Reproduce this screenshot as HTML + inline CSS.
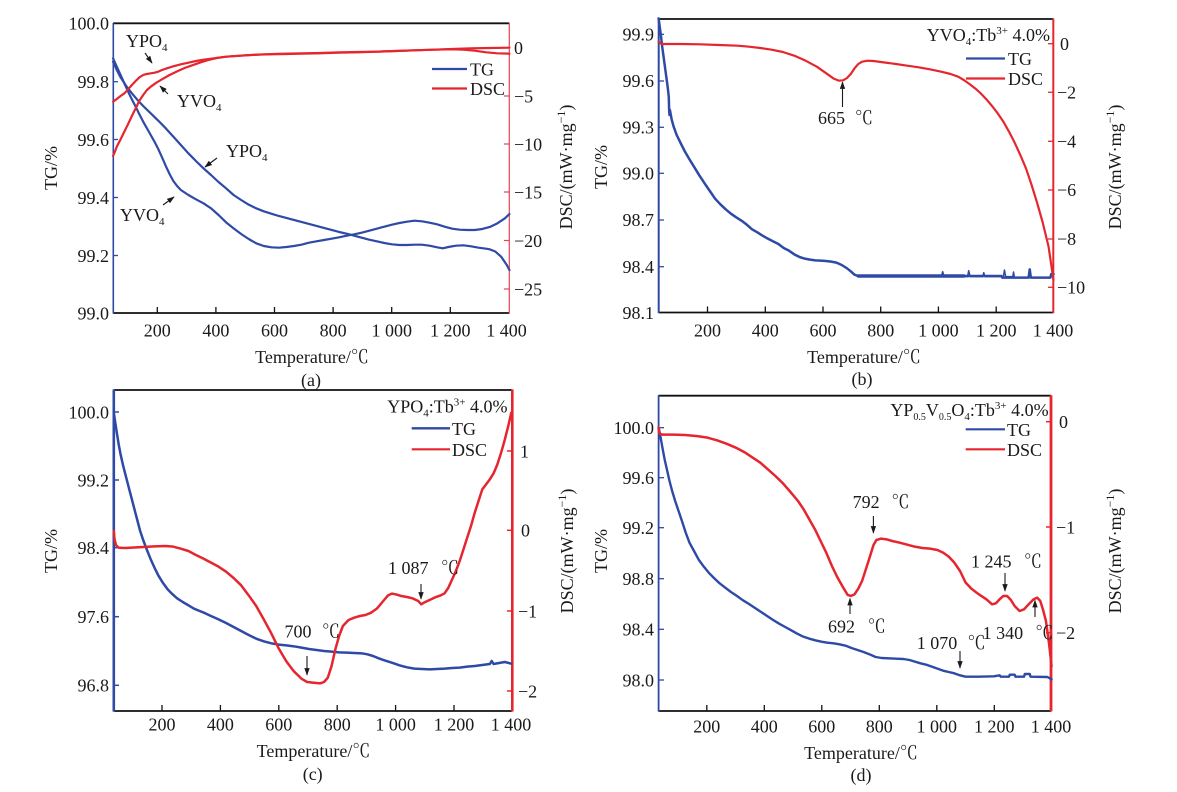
<!DOCTYPE html>
<html><head><meta charset="utf-8"><style>
html,body{margin:0;padding:0;background:#fff;}
svg{display:block;}
text{font-family:"Liberation Serif","Noto Serif CJK SC",serif;font-size:18px;fill:#1a1a1a;}
.tg{fill:none;stroke:#2e4aa6;stroke-width:2.2;stroke-linejoin:round;stroke-linecap:round;}
.dsc{fill:none;stroke:#e5262e;stroke-width:2.2;stroke-linejoin:round;stroke-linecap:round;}
.ar{stroke:#1a1a1a;stroke-width:1.1;fill:none;}
</style></head><body>
<svg width="1177" height="792" viewBox="0 0 1177 792" xmlns="http://www.w3.org/2000/svg">
<defs>
<marker id="ah" viewBox="0 0 10 10" refX="9" refY="5" markerWidth="7" markerHeight="7" orient="auto"><path d="M0,1.5 L10,5 L0,8.5 z" fill="#1a1a1a"/></marker>
</defs>

<!-- ================= PANEL (a) ================= -->
<g>
<line x1="113" y1="23.3" x2="509.3" y2="23.3" stroke="#111" stroke-width="1.8"/>
<line x1="113" y1="313" x2="509.3" y2="313" stroke="#111" stroke-width="1.8"/>
<line x1="113.3" y1="23" x2="113.3" y2="313.5" stroke="#2e4aa6" stroke-width="1.6"/>
<line x1="509.3" y1="23" x2="509.3" y2="313.5" stroke="#ec4050" stroke-width="1.2"/>
<g stroke="#111" stroke-width="1.3">
<line x1="157.3" y1="313" x2="157.3" y2="307"/><line x1="215.9" y1="313" x2="215.9" y2="307"/><line x1="274.5" y1="313" x2="274.5" y2="307"/><line x1="333.1" y1="313" x2="333.1" y2="307"/><line x1="391.7" y1="313" x2="391.7" y2="307"/><line x1="450.3" y1="313" x2="450.3" y2="307"/>
</g>
<g stroke="#2e4aa6" stroke-width="1.3">
<line x1="113" y1="81.7" x2="118" y2="81.7"/><line x1="113" y1="139.5" x2="118" y2="139.5"/><line x1="113" y1="197.5" x2="118" y2="197.5"/><line x1="113" y1="255.5" x2="118" y2="255.5"/>
</g>
<g stroke="#ec4050" stroke-width="1.2">
<line x1="509" y1="47.6" x2="504" y2="47.6"/><line x1="509" y1="96" x2="504" y2="96"/><line x1="509" y1="144" x2="504" y2="144"/><line x1="509" y1="192" x2="504" y2="192"/><line x1="509" y1="240.5" x2="504" y2="240.5"/><line x1="509" y1="289" x2="504" y2="289"/>
</g>
<g text-anchor="end">
<text x="109" y="29.5">100.0</text><text x="109" y="88">99.8</text><text x="109" y="146">99.6</text><text x="109" y="204">99.4</text><text x="109" y="262">99.2</text><text x="109" y="319.5">99.0</text>
</g>
<g text-anchor="start">
<text x="514" y="54">0</text><text x="514" y="102.5">−5</text><text x="514" y="150.5">−10</text><text x="514" y="198.5">−15</text><text x="514" y="247">−20</text><text x="514" y="295.5">−25</text>
</g>
<g text-anchor="middle">
<text x="157.3" y="336.5">200</text><text x="215.9" y="336.5">400</text><text x="274.5" y="336.5">600</text><text x="333.1" y="336.5">800</text><text x="391.7" y="336.5">1 000</text><text x="450.3" y="336.5">1 200</text><text x="506.5" y="336.5">1 400</text>
<text x="312" y="363">Temperature/℃</text>
<text x="311" y="386">(a)</text>
</g>
<text transform="translate(57,168) rotate(-90)" text-anchor="middle">TG/%</text>
<text transform="translate(572,167) rotate(-90)" text-anchor="middle">DSC/(mW·mg<tspan font-size="12" dy="-7">−1</tspan><tspan dy="7">)</tspan></text>

<g transform="scale(0.37679,0.33333)">
<polyline class="tg" vector-effect="non-scaling-stroke" points="300,175 310,200 320,225 330,250 340,275 350,298 360,320 370,343 380,365 390,385 400,405 410,425 420,447 430,472 440,498 450,522 460,543 470,558 480,570 500,585 520,598 540,610 560,625 580,645 600,667 620,685 640,702 660,717 680,730 700,738 720,742 740,743 760,741 780,738 800,734 820,728 840,724 860,720 880,716 900,712 920,707 940,703 960,698 980,692 1000,686 1020,680 1040,674 1060,669 1080,665 1100,662 1120,664 1140,668 1160,673 1180,680 1200,686 1220,689 1240,690 1260,690 1280,687 1300,681 1320,670 1340,655 1352,642"/>
<polyline class="tg" vector-effect="non-scaling-stroke" points="300,185 310,210 320,232 335,258 350,280 365,300 380,318 400,340 420,362 440,385 460,410 480,435 500,460 520,483 540,505 560,525 580,546 600,565 620,585 640,600 660,614 680,625 700,634 720,641 740,648 760,654 780,660 800,666 820,672 840,678 860,684 880,690 900,696 920,701 940,707 960,713 980,719 1000,724 1020,729 1040,733 1060,735 1080,735 1100,734 1120,734 1140,737 1160,742 1175,745 1190,741 1210,737 1230,736 1250,739 1270,743 1290,746 1300,748 1315,755 1330,770 1345,795 1352,810"/>
<polyline class="dsc" vector-effect="non-scaling-stroke" points="300,305 310,297 320,288 330,280 340,268 350,255 360,243 370,232 380,225 390,222 400,220 410,218 420,215 430,210 440,206 460,199 480,193 500,188 520,183 540,179 560,176 580,173 600,170 640,167 680,164 720,163 760,162 800,161 850,160 900,158 950,157 1000,155 1050,153 1100,151 1150,149 1200,147 1250,145 1300,144 1352,143"/>
<polyline class="dsc" vector-effect="non-scaling-stroke" points="300,468 305,455 310,440 320,418 330,395 340,372 350,348 360,325 370,302 380,285 390,270 400,260 415,248 430,238 450,225 470,214 490,204 510,196 530,188 550,181 575,174 600,170 650,166 700,163 750,161 800,160 850,159 900,157 950,156 1000,155 1050,153 1100,151 1150,149 1200,148 1230,149 1260,152 1290,157 1320,160 1352,161"/>
</g>
<!-- legend a -->
<line x1="432" y1="69" x2="467" y2="69" stroke="#2e4aa6" stroke-width="2.2"/>
<text x="470" y="75.5">TG</text>
<line x1="432" y1="88.5" x2="467" y2="88.5" stroke="#e5262e" stroke-width="2.2"/>
<text x="470" y="95">DSC</text>
<!-- annotations a -->
<text x="126" y="47">YPO<tspan font-size="11" dy="4">4</tspan></text>
<line class="ar" x1="145" y1="53" x2="152" y2="63" marker-end="url(#ah)"/>
<text x="177" y="107">YVO<tspan font-size="11" dy="4">4</tspan></text>
<line class="ar" x1="168" y1="94" x2="160" y2="86" marker-end="url(#ah)"/>
<text x="226" y="157">YPO<tspan font-size="11" dy="4">4</tspan></text>
<line class="ar" x1="217" y1="158" x2="205" y2="167" marker-end="url(#ah)"/>
<text x="120" y="221">YVO<tspan font-size="11" dy="4">4</tspan></text>
<line class="ar" x1="163" y1="205" x2="174" y2="197" marker-end="url(#ah)"/>
</g>

<!-- ================= PANEL (b) ================= -->
<g>
<line x1="658.5" y1="19" x2="1053.3" y2="19" stroke="#111" stroke-width="1.8"/>
<line x1="658.5" y1="312.5" x2="1053.3" y2="312.5" stroke="#111" stroke-width="1.8"/>
<line x1="658.7" y1="18.5" x2="658.7" y2="313" stroke="#2e4aa6" stroke-width="2"/>
<line x1="1053.3" y1="18.5" x2="1053.3" y2="313" stroke="#e5262e" stroke-width="2"/>
<g stroke="#111" stroke-width="1.3">
<line x1="707.5" y1="312.5" x2="707.5" y2="306.5"/><line x1="765.3" y1="312.5" x2="765.3" y2="306.5"/><line x1="823" y1="312.5" x2="823" y2="306.5"/><line x1="880.7" y1="312.5" x2="880.7" y2="306.5"/><line x1="938.4" y1="312.5" x2="938.4" y2="306.5"/><line x1="996.2" y1="312.5" x2="996.2" y2="306.5"/>
</g>
<g stroke="#2e4aa6" stroke-width="1.3">
<line x1="658.7" y1="34.3" x2="664" y2="34.3"/><line x1="658.7" y1="81" x2="664" y2="81"/><line x1="658.7" y1="127.3" x2="664" y2="127.3"/><line x1="658.7" y1="173.3" x2="664" y2="173.3"/><line x1="658.7" y1="220" x2="664" y2="220"/><line x1="658.7" y1="266.7" x2="664" y2="266.7"/>
</g>
<g stroke="#e5262e" stroke-width="1.3">
<line x1="1053" y1="43.7" x2="1048" y2="43.7"/><line x1="1053" y1="92.3" x2="1048" y2="92.3"/><line x1="1053" y1="141.3" x2="1048" y2="141.3"/><line x1="1053" y1="190" x2="1048" y2="190"/><line x1="1053" y1="239" x2="1048" y2="239"/><line x1="1053" y1="287.3" x2="1048" y2="287.3"/>
</g>
<g text-anchor="end">
<text x="654" y="40.5">99.9</text><text x="654" y="87">99.6</text><text x="654" y="133.5">99.3</text><text x="654" y="179.5">99.0</text><text x="654" y="226">98.7</text><text x="654" y="273">98.4</text><text x="654" y="319">98.1</text>
</g>
<g text-anchor="start">
<text x="1060" y="50">0</text><text x="1057" y="98.5">−2</text><text x="1057" y="147.5">−4</text><text x="1057" y="196">−6</text><text x="1057" y="245">−8</text><text x="1057" y="293.5">−10</text>
</g>
<g text-anchor="middle">
<text x="707.5" y="336.5">200</text><text x="765.3" y="336.5">400</text><text x="823" y="336.5">600</text><text x="880.7" y="336.5">800</text><text x="938.4" y="336.5">1 000</text><text x="996.2" y="336.5">1 200</text><text x="1053" y="336.5">1 400</text>
<text x="864" y="363">Temperature/℃</text>
<text x="862" y="385">(b)</text>
</g>
<text transform="translate(607,167) rotate(-90)" text-anchor="middle">TG/%</text>
<text transform="translate(1121,167) rotate(-90)" text-anchor="middle">DSC/(mW·mg<tspan font-size="12" dy="-7">−1</tspan><tspan dy="7">)</tspan></text>

<g transform="translate(587,0) scale(0.37679,0.33333)">
<polyline class="tg" vector-effect="non-scaling-stroke" style="stroke-width:2.5" points="190,55 193,80 196,105 199,135 202,160 205,185 208,210 211,235 214,260 217,290 218,330 219,345 220,330 222,342 225,360 230,380 238,405 248,428 260,455 272,478 285,502 298,526 312,550 326,573 340,596 354,613 368,628 382,641 396,652 410,662 424,674 438,688 452,697 466,707 480,716 494,724 508,732 522,744 536,752 550,763 564,771 578,776 592,779 606,781 620,782 634,783 648,785 662,788 676,795 690,805 700,814 710,824 720,828 1100,828 1102,833 1172,833 1175,808 1178,833 1230,833 1232,822 1238,822"/>
<polyline class="tg" vector-effect="non-scaling-stroke" style="stroke-width:3.5" points="720,828 1000,828"/>
<polyline class="tg" vector-effect="non-scaling-stroke" style="stroke-width:1.5" points="940,830 944,815 948,830 1010,830 1013,812 1017,830 1050,830 1053,818 1056,830 1105,830 1108,810 1111,830 1130,830 1132,816 1134,830"/>
<polyline class="dsc" vector-effect="non-scaling-stroke" points="190,125 195,130 200,132 250,132 300,133 350,135 400,137 430,140 460,144 490,149 520,156 550,167 580,182 610,200 635,220 655,236 668,242 680,241 690,234 700,222 710,205 720,192 730,185 745,182 760,183 780,186 800,189 820,192 850,197 880,202 910,208 940,215 965,222 985,230 1000,240 1015,252 1030,265 1045,280 1060,298 1075,318 1090,340 1105,365 1120,395 1135,428 1150,465 1165,505 1180,555 1195,610 1210,670 1225,740 1238,840"/>
</g>
<text x="1050" y="41" text-anchor="end">YVO<tspan font-size="11" dy="4">4</tspan><tspan dy="-4">:Tb</tspan><tspan font-size="11" dy="-7">3+</tspan><tspan dy="7"> 4.0%</tspan></text>
<line x1="966" y1="58.5" x2="1005" y2="58.5" stroke="#2e4aa6" stroke-width="2.2"/>
<text x="1008" y="65">TG</text>
<line x1="966" y1="78.5" x2="1005" y2="78.5" stroke="#e5262e" stroke-width="2.2"/>
<text x="1008" y="85">DSC</text>
<text x="818" y="124">665</text><text x="855" y="124">℃</text>
<line class="ar" x1="842.5" y1="107" x2="842.5" y2="82" marker-end="url(#ah)"/>
</g>

<!-- ================= PANEL (c) ================= -->
<g>
<line x1="113.5" y1="390" x2="512.3" y2="390" stroke="#111" stroke-width="1.8"/>
<line x1="113.5" y1="711" x2="512.3" y2="711" stroke="#111" stroke-width="1.8"/>
<line x1="113.8" y1="389.5" x2="113.8" y2="711.5" stroke="#2e4aa6" stroke-width="2.6"/>
<line x1="512.3" y1="389.5" x2="512.3" y2="711.5" stroke="#e5262e" stroke-width="2.6"/>
<g stroke="#111" stroke-width="1.3">
<line x1="162" y1="711" x2="162" y2="705"/><line x1="220.4" y1="711" x2="220.4" y2="705"/><line x1="278.8" y1="711" x2="278.8" y2="705"/><line x1="337.2" y1="711" x2="337.2" y2="705"/><line x1="395.6" y1="711" x2="395.6" y2="705"/><line x1="454" y1="711" x2="454" y2="705"/>
</g>
<g stroke="#2e4aa6" stroke-width="1.5">
<line x1="113.8" y1="412" x2="119" y2="412"/><line x1="113.8" y1="480" x2="119" y2="480"/><line x1="113.8" y1="547.7" x2="119" y2="547.7"/><line x1="113.8" y1="616.7" x2="119" y2="616.7"/><line x1="113.8" y1="685.3" x2="119" y2="685.3"/>
</g>
<g stroke="#e5262e" stroke-width="1.5">
<line x1="512" y1="451" x2="507" y2="451"/><line x1="512" y1="530.3" x2="507" y2="530.3"/><line x1="512" y1="611" x2="507" y2="611"/><line x1="512" y1="691" x2="507" y2="691"/>
</g>
<g text-anchor="end">
<text x="109" y="418.5">100.0</text><text x="109" y="486.5">99.2</text><text x="109" y="554">98.4</text><text x="109" y="623">97.6</text><text x="109" y="691.5">96.8</text>
</g>
<g text-anchor="start">
<text x="520" y="457.5">1</text><text x="521" y="536.5">0</text><text x="518" y="617.5">−1</text><text x="518" y="697.5">−2</text>
</g>
<g text-anchor="middle">
<text x="162" y="730.5">200</text><text x="220.4" y="730.5">400</text><text x="278.8" y="730.5">600</text><text x="337.2" y="730.5">800</text><text x="395.6" y="730.5">1 000</text><text x="454" y="730.5">1 200</text><text x="511" y="730.5">1 400</text>
<text x="313.5" y="757">Temperature/℃</text>
<text x="312.7" y="780">(c)</text>
</g>
<text transform="translate(57,551) rotate(-90)" text-anchor="middle">TG/%</text>
<text transform="translate(573,551) rotate(-90)" text-anchor="middle">DSC/(mW·mg<tspan font-size="12" dy="-7">−1</tspan><tspan dy="7">)</tspan></text>

<g transform="translate(0,396) scale(0.37679,0.33333)">
<polyline class="tg" vector-effect="non-scaling-stroke" style="stroke-width:2.5" points="302,50 306,80 310,110 315,145 320,175 327,210 335,245 343,280 350,310 358,345 365,375 372,405 380,432 390,462 400,490 410,515 420,538 432,560 445,580 458,595 470,607 485,618 500,628 515,638 530,645 545,652 560,660 580,670 600,681 620,693 640,705 660,717 680,728 700,736 720,742 740,746 760,748 780,751 800,755 820,759 840,762 860,765 880,767 900,769 920,770 940,771 960,772 975,775 990,780 1005,787 1020,793 1040,800 1060,808 1080,814 1100,818 1120,819 1140,820 1160,819 1180,818 1200,816 1220,815 1240,812 1260,810 1280,807 1300,804 1305,795 1310,804 1330,800 1340,798 1357,803"/>
<polyline class="dsc" vector-effect="non-scaling-stroke" style="stroke-width:2.5" points="302,405 304,430 308,448 315,455 330,456 350,455 380,453 410,451 440,450 460,452 480,458 500,465 520,477 540,488 560,500 580,512 600,527 620,546 640,568 660,598 680,630 700,670 720,712 740,758 760,796 780,826 800,848 815,858 830,860 850,862 860,858 870,845 880,810 890,760 900,720 910,690 925,672 940,665 955,660 970,657 985,650 1000,638 1015,618 1030,598 1040,593 1050,595 1065,600 1080,603 1095,607 1110,615 1118,625 1125,620 1140,612 1155,604 1170,598 1180,592 1190,575 1200,550 1210,525 1220,495 1230,460 1240,425 1250,390 1260,350 1270,315 1280,280 1290,265 1300,250 1310,232 1320,205 1330,170 1340,130 1350,85 1357,50"/>
</g>
<text x="507.5" y="412.5" text-anchor="end">YPO<tspan font-size="11" dy="4">4</tspan><tspan dy="-4">:Tb</tspan><tspan font-size="11" dy="-7">3+</tspan><tspan dy="7"> 4.0%</tspan></text>
<line x1="411.7" y1="428.3" x2="450" y2="428.3" stroke="#2e4aa6" stroke-width="2.4"/>
<text x="452" y="435">TG</text>
<line x1="411.7" y1="449.3" x2="450" y2="449.3" stroke="#e5262e" stroke-width="2.2"/>
<text x="452" y="456">DSC</text>
<text x="284.5" y="637.5">700</text><text x="322" y="637.5">℃</text>
<line class="ar" x1="307" y1="656" x2="307" y2="675" marker-end="url(#ah)"/>
<text x="388" y="574">1 087</text><text x="441" y="574">℃</text>
<line class="ar" x1="421" y1="584" x2="421" y2="599" marker-end="url(#ah)"/>
</g>

<!-- ================= PANEL (d) ================= -->
<g>
<line x1="658.5" y1="395.7" x2="1051" y2="395.7" stroke="#111" stroke-width="1.8"/>
<line x1="658.5" y1="711" x2="1051" y2="711" stroke="#111" stroke-width="1.8"/>
<line x1="658.6" y1="395.2" x2="658.6" y2="711.5" stroke="#2e4aa6" stroke-width="1.8"/>
<line x1="1051" y1="395.2" x2="1051" y2="711.5" stroke="#e5262e" stroke-width="2.8"/>
<g stroke="#111" stroke-width="1.3">
<line x1="706.8" y1="711" x2="706.8" y2="705"/><line x1="764.3" y1="711" x2="764.3" y2="705"/><line x1="821.8" y1="711" x2="821.8" y2="705"/><line x1="879.3" y1="711" x2="879.3" y2="705"/><line x1="936.8" y1="711" x2="936.8" y2="705"/><line x1="994.3" y1="711" x2="994.3" y2="705"/>
</g>
<g stroke="#2e4aa6" stroke-width="1.3">
<line x1="658.6" y1="427.7" x2="664" y2="427.7"/><line x1="658.6" y1="477.7" x2="664" y2="477.7"/><line x1="658.6" y1="527.7" x2="664" y2="527.7"/><line x1="658.6" y1="578.7" x2="664" y2="578.7"/><line x1="658.6" y1="629.3" x2="664" y2="629.3"/><line x1="658.6" y1="680" x2="664" y2="680"/>
</g>
<g stroke="#e5262e" stroke-width="1.5">
<line x1="1051" y1="421.7" x2="1046" y2="421.7"/><line x1="1051" y1="527" x2="1046" y2="527"/><line x1="1051" y1="632.7" x2="1046" y2="632.7"/>
</g>
<g text-anchor="end">
<text x="654" y="434">100.0</text><text x="654" y="484">99.6</text><text x="654" y="534">99.2</text><text x="654" y="585">98.8</text><text x="654" y="635.5">98.4</text><text x="654" y="686.5">98.0</text>
</g>
<g text-anchor="start">
<text x="1059" y="428">0</text><text x="1056" y="533.5">−1</text><text x="1056" y="639">−2</text>
</g>
<g text-anchor="middle">
<text x="706.8" y="732.5">200</text><text x="764.3" y="732.5">400</text><text x="821.8" y="732.5">600</text><text x="879.3" y="732.5">800</text><text x="936.8" y="732.5">1 000</text><text x="994.3" y="732.5">1 200</text><text x="1051" y="732.5">1 400</text>
<text x="861" y="759">Temperature/℃</text>
<text x="861" y="781">(d)</text>
</g>
<text transform="translate(607,551) rotate(-90)" text-anchor="middle">TG/%</text>
<text transform="translate(1121,551) rotate(-90)" text-anchor="middle">DSC/(mW·mg<tspan font-size="12" dy="-7">−1</tspan><tspan dy="7">)</tspan></text>

<g transform="translate(587,396) scale(0.37679,0.33333)">
<polyline class="tg" vector-effect="non-scaling-stroke" style="stroke-width:2.4" points="190,95 193,110 197,135 201,160 206,190 212,220 219,255 226,285 234,315 243,345 252,375 262,410 272,440 284,465 297,492 310,512 323,530 337,546 352,562 367,575 382,588 398,600 414,613 430,624 446,636 462,648 478,660 494,672 510,683 526,693 542,703 558,713 574,722 590,728 606,733 622,737 638,740 654,742 670,745 686,749 702,756 718,762 734,768 750,775 766,783 782,786 800,787 820,788 840,789 856,792 870,797 885,802 900,806 915,812 930,818 945,824 960,828 975,832 990,838 1005,842 1040,842 1080,841 1095,838 1098,842 1120,842 1122,836 1135,836 1137,842 1160,842 1162,834 1175,834 1177,842 1222,843 1233,850"/>
<polyline class="dsc" vector-effect="non-scaling-stroke" style="stroke-width:2.5" points="190,95 192,112 200,116 230,116 260,117 290,120 320,125 345,133 370,143 395,155 420,170 440,185 460,200 480,220 500,240 520,262 540,288 560,315 575,340 590,370 605,400 620,435 635,470 650,510 665,545 680,575 692,597 700,600 710,595 720,578 730,555 740,520 750,485 760,448 768,432 780,428 795,430 810,435 830,440 850,446 870,452 890,456 910,458 930,462 945,470 960,482 975,500 990,525 1005,560 1020,578 1040,595 1060,610 1075,625 1085,622 1095,610 1105,600 1115,600 1125,612 1135,630 1148,645 1160,640 1172,625 1185,610 1195,605 1203,615 1210,640 1218,675 1226,740 1233,810"/>
</g>
<text x="1048.6" y="416" text-anchor="end">YP<tspan font-size="10" dy="4">0.5</tspan><tspan dy="-4">V</tspan><tspan font-size="10" dy="4">0.5</tspan><tspan dy="-4">O</tspan><tspan font-size="11" dy="4">4</tspan><tspan dy="-4">:Tb</tspan><tspan font-size="11" dy="-7">3+</tspan><tspan dy="7"> 4.0%</tspan></text>
<line x1="965.7" y1="429.3" x2="1005" y2="429.3" stroke="#2e4aa6" stroke-width="2.2"/>
<text x="1007" y="436">TG</text>
<line x1="965.7" y1="449.3" x2="1005" y2="449.3" stroke="#e5262e" stroke-width="2.2"/>
<text x="1007" y="456">DSC</text>
<text x="852.6" y="508">792</text><text x="891.5" y="508">℃</text>
<line class="ar" x1="873.4" y1="516" x2="873.4" y2="533" marker-end="url(#ah)"/>
<text x="828" y="632.5">692</text><text x="867.7" y="632.5">℃</text>
<line class="ar" x1="850" y1="614" x2="850" y2="598.5" marker-end="url(#ah)"/>
<text x="916.7" y="649">1 070</text><text x="967.6" y="649">℃</text>
<line class="ar" x1="960" y1="651" x2="960" y2="668" marker-end="url(#ah)"/>
<text x="971" y="567.5">1 245</text><text x="1024" y="567.5">℃</text>
<line class="ar" x1="1005" y1="573" x2="1005" y2="591" marker-end="url(#ah)"/>
<text x="982.6" y="639">1 340</text><text x="1035.4" y="639">℃</text>
<line class="ar" x1="1035" y1="617" x2="1035" y2="600.5" marker-end="url(#ah)"/>
</g>
</svg>
</body></html>
